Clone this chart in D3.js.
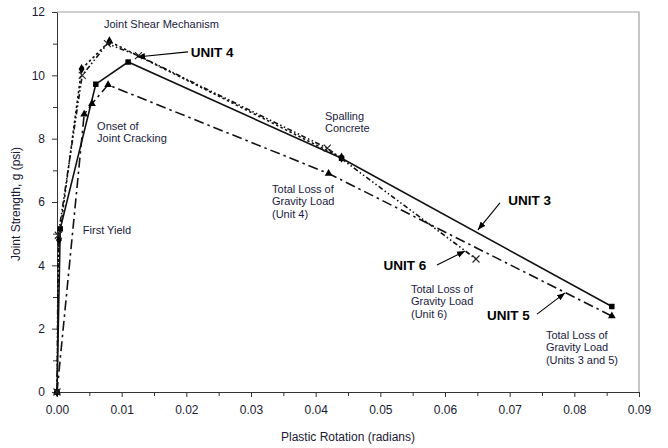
<!DOCTYPE html>
<html><head><meta charset="utf-8">
<script src="https://cdn.jsdelivr.net/npm/d3@7"></script>
<style>
body{margin:0;background:#fff}
svg{display:block}
text{font-family:"Liberation Sans",Arial,Helvetica,sans-serif}
</style>
</head><body>
<svg id="chart" width="668" height="448"></svg>
<script>
// ---- data ----
const xTickValues = [0, 0.01, 0.02, 0.03, 0.04, 0.05, 0.06, 0.07, 0.08, 0.09];
const xMinorTickValues = [0.005, 0.015, 0.025, 0.035, 0.045, 0.055, 0.065, 0.075, 0.085];
const yTickValues = [0, 2, 4, 6, 8, 10, 12];
const yMinorTickValues = [1, 3, 5, 7, 9, 11];

const unit3Rot = [0, 0.0005, 0.006, 0.011, 0.044, 0.0858];
const unit3Str = [0, 5.15, 9.72, 10.42, 7.38, 2.7];

const unit4Rot = [0, 0.0003, 0.0038, 0.0081, 0.044];
const unit4Str = [0, 4.8, 10.2, 11.07, 7.4];

const unit5Rot = [0, 0.0042, 0.0054, 0.0079, 0.042, 0.0858];
const unit5Str = [0, 8.77, 9.1, 9.7, 6.9, 2.4];

const unit6Rot = [0, 0.0002, 0.0039, 0.0078, 0.0126, 0.0418, 0.0648];
const unit6Str = [0, 4.95, 10.0, 11.0, 10.62, 7.7, 4.2];

const notes = [
  {lines:["Joint Shear Mechanism"], x:0.00727, y:11.62, bold:false},
  {lines:["UNIT 4"], x:0.0207, y:10.74, bold:true},
  {lines:["Onset of","Joint Cracking"], x:0.0062, y:8.40, bold:false},
  {lines:["First Yield"], x:0.0040, y:5.12, bold:false},
  {lines:["Spalling","Concrete"], x:0.04144, y:8.72, bold:false},
  {lines:["Total Loss of","Gravity Load","(Unit 4)"], x:0.03325, y:6.41, bold:false},
  {lines:["UNIT 3"], x:0.0698, y:6.06, bold:true},
  {lines:["UNIT 6"], x:0.0505, y:4.01, bold:true},
  {lines:["Total Loss of","Gravity Load","(Unit 6)"], x:0.05474, y:3.25, bold:false},
  {lines:["UNIT 5"], x:0.0665, y:2.43, bold:true},
  {lines:["Total Loss of","Gravity Load","(Units 3 and 5)"], x:0.0756, y:1.80, bold:false}
];
const arrows = [
  {x1:0.02026, y1:10.74, x2:0.01237, y2:10.58},
  {x1:0.0685, y1:5.97, x2:0.0651, y2:5.12},
  {x1:0.05876, y1:4.01, x2:0.06309, y2:4.45},
  {x1:0.07423, y1:2.46, x2:0.07856, y2:3.13}
];

// ---- layout ----
const svg = d3.select("#chart");
const L = 57, R = 639, T = 12, B = 392;
const x = d3.scaleLinear().domain([0, 0.09]).range([L, R]);
const y = d3.scaleLinear().domain([0, 12]).range([B, T]);

svg.append("defs").append("marker")
  .attr("id","ah").attr("viewBox","0 0 10 10").attr("refX",10).attr("refY",5)
  .attr("markerWidth",8).attr("markerHeight",8).attr("markerUnits","userSpaceOnUse")
  .attr("orient","auto")
  .append("path").attr("d","M0,1 L10,5 L0,9 z").attr("fill","#000");

// frame (top & right)
svg.append("path")
  .attr("d", `M${L},${T}H${R}V${B}`)
  .attr("fill","none").attr("stroke","#a0a0a0").attr("stroke-width",1.2);

// axes
const xAxis = svg.append("g").attr("transform",`translate(0,${B})`)
  .call(d3.axisBottom(x).tickValues(xTickValues).tickFormat(d3.format(".2f"))
    .tickSize(5).tickPadding(8).tickSizeOuter(0));
svg.append("g").attr("transform",`translate(0,${B})`)
  .call(d3.axisBottom(x).tickValues(xMinorTickValues).tickFormat("").tickSize(4).tickSizeOuter(0))
  .select(".domain").remove();
const yAxis = svg.append("g").attr("transform",`translate(${L},0)`)
  .call(d3.axisLeft(y).tickValues(yTickValues).tickFormat(d3.format("d"))
    .tickSize(5).tickPadding(7).tickSizeOuter(0));
svg.append("g").attr("transform",`translate(${L},0)`)
  .call(d3.axisLeft(y).tickValues(yMinorTickValues).tickFormat("").tickSize(4).tickSizeOuter(0))
  .select(".domain").remove();

svg.selectAll(".tick text").attr("font-size",12).attr("fill","#1a1a33")
  .attr("font-family",'"Liberation Sans",Arial,sans-serif');
svg.selectAll(".domain, .tick line").attr("stroke","#333").attr("stroke-width",1);

// axis titles
svg.append("text").attr("x",(L+R)/2).attr("y",441).attr("text-anchor","middle")
  .attr("font-size",12).attr("fill","#1a1a33").text("Plastic Rotation (radians)");
svg.append("text").attr("transform","translate(20,204) rotate(-90)").attr("text-anchor","middle")
  .attr("font-size",12).attr("fill","#1a1a33").text("Joint Strength, g (psi)");

// series
const series = [
  {rot:unit3Rot, str:unit3Str, dash:null, sym:"square"},
  {rot:unit5Rot, str:unit5Str, dash:"10,4,2.5,4", sym:"triangle"},
  {rot:unit4Rot, str:unit4Str, dash:"2.5,2.5", sym:"diamond"},
  {rot:unit6Rot, str:unit6Str, dash:"5,2.5,1.5,2.5,1.5,2.5", sym:"x"}
];
const line = d3.line().x(d => x(d[0])).y(d => y(d[1]));
series.forEach(s => {
  const pts = s.rot.map((r,i) => [r, s.str[i]]);
  svg.append("path").datum(pts).attr("d", line)
    .attr("fill","none").attr("stroke","#111").attr("stroke-width",1.6)
    .attr("stroke-dasharray", s.dash);
  const g = svg.append("g");
  pts.forEach(p => {
    const cx = x(p[0]), cy = y(p[1]);
    if (s.sym === "x") {
      g.append("path").attr("d",`M${cx-3.5},${cy-3.5}L${cx+3.5},${cy+3.5}M${cx-3.5},${cy+3.5}L${cx+3.5},${cy-3.5}`)
        .attr("stroke","#222").attr("stroke-width",1.1).attr("fill","none");
    } else {
      const type = s.sym === "square" ? d3.symbolSquare : s.sym === "diamond" ? d3.symbolDiamond : d3.symbolTriangle;
      const size = s.sym === "square" ? 30 : s.sym === "diamond" ? 30 : 26;
      g.append("path").attr("d", d3.symbol().type(type).size(size)())
        .attr("transform",`translate(${cx},${cy})`).attr("fill","#000");
    }
  });
});

// arrows
arrows.forEach(a => {
  svg.append("line").attr("x1",x(a.x1)).attr("y1",y(a.y1)).attr("x2",x(a.x2)).attr("y2",y(a.y2))
    .attr("stroke","#000").attr("stroke-width",1.1).attr("marker-end","url(#ah)");
});

// annotations
notes.forEach(n => {
  const t = svg.append("text").attr("font-size", n.bold ? 13.5 : 11)
    .attr("font-weight", n.bold ? "bold" : "normal")
    .attr("fill", n.bold ? "#000" : "#1a1a40");
  n.lines.forEach((ln,i) => {
    t.append("tspan").attr("x", x(n.x)).attr("y", y(n.y) + i*12.5).attr("dy","0.35em").text(ln);
  });
});
</script>
</body></html>
